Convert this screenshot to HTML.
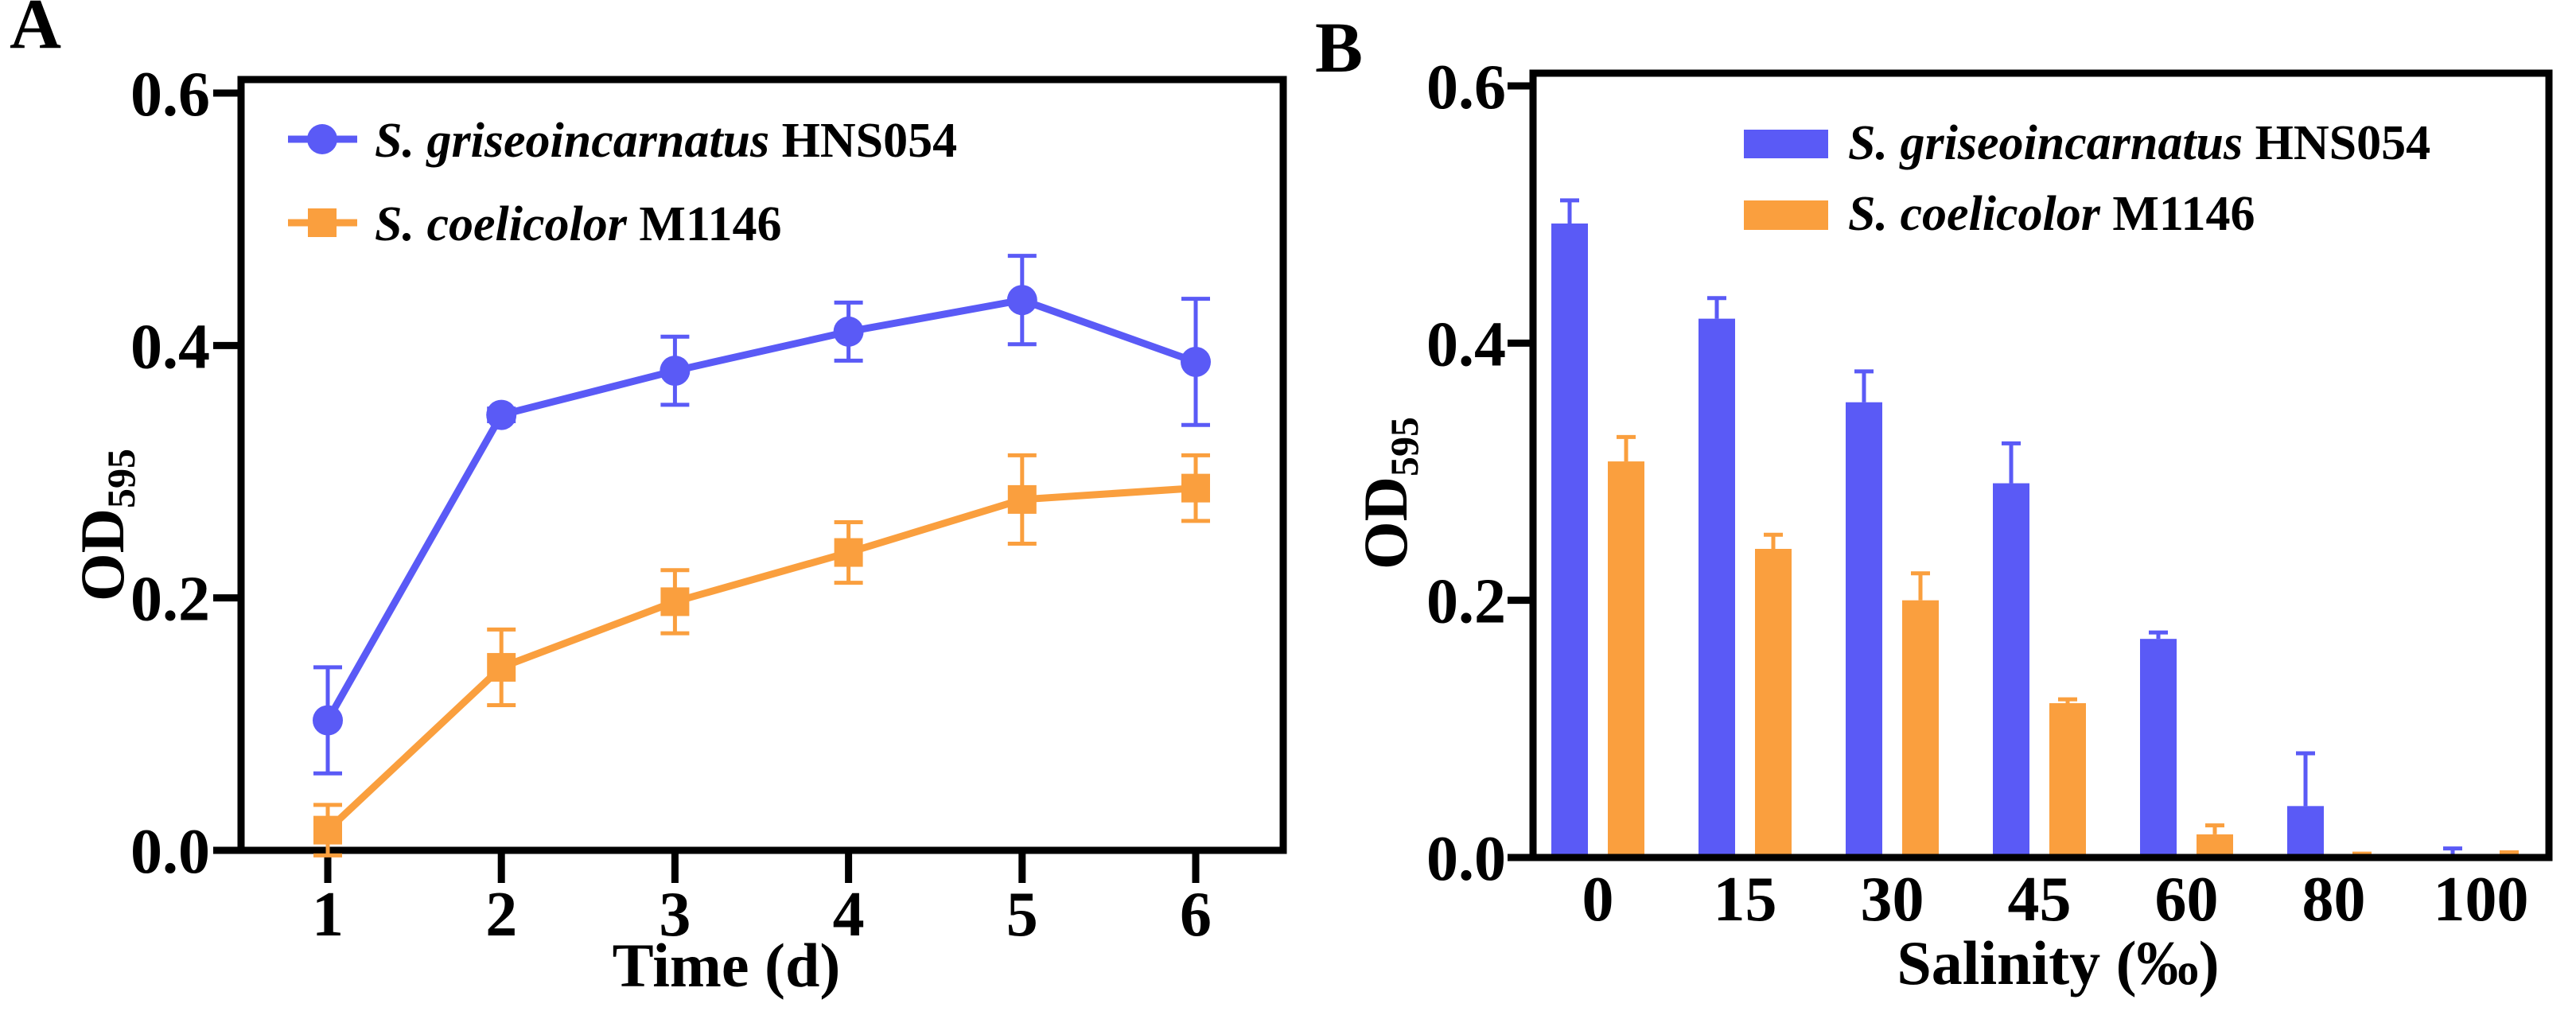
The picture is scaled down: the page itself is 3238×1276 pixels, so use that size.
<!DOCTYPE html>
<html><head><meta charset="utf-8"><style>
html,body{margin:0;padding:0;background:#fff;}
svg{display:block;}
svg text{font-family:"Liberation Serif","DejaVu Serif",serif;font-weight:bold;}
</style></head><body>
<svg id="fig" width="3238" height="1276" viewBox="0 0 3238 1276" xmlns="http://www.w3.org/2000/svg" font-family="Liberation Serif, DejaVu Serif, serif" font-weight="bold">
<g id="A"></g>
<g id="B"></g>
</svg>
<script>
// Panel A data
const daysA = [1,2,3,4,5,6];
const griseoA = [0.103,0.345,0.380,0.411,0.436,0.387];
const griseoErrA = [0.042,0.005,0.027,0.023,0.035,0.050];
const coeliA = [0.016,0.145,0.197,0.236,0.278,0.287];
const coeliErrA = [0.020,0.030,0.025,0.024,0.035,0.026];
const yTicks = [0.0,0.2,0.4,0.6];
const yTickLabels = ["0.0","0.2","0.4","0.6"];
// Panel B data
const salinity = ["0","15","30","45","60","80","100"];
const griseoB = [0.493,0.419,0.354,0.291,0.170,0.040,0.001];
const griseoErrB = [0.018,0.016,0.024,0.031,0.005,0.041,0.006];
const coeliB = [0.308,0.240,0.200,0.120,0.018,0.002,0.002];
const coeliErrB = [0.019,0.011,0.021,0.003,0.007,0.001,0.002];

const NS="http://www.w3.org/2000/svg";
const BLUE="#5a5af6", ORANGE="#fa9f3e";
function mk(parent,tag,attrs,text){const e=document.createElementNS(NS,tag);for(const k in attrs)e.setAttribute(k,attrs[k]);if(tag==='text'){e.setAttribute('font-family','Liberation Serif, DejaVu Serif, serif');e.setAttribute('font-weight','bold');}if(text!==undefined)e.textContent=text;parent.appendChild(e);return e;}

// ---------- Panel A ----------
const A=document.getElementById('A');
const axA={x0:303,x1:1613,y0:1069,yTop:100};
const yA=v=>1069-v/0.6*952;
const xA=d=>412+(d-1)*218.2;
let t=mk(A,'text',{x:12,y:60,'font-size':90},'A');


let f=mk(A,'path',{d:`M${axA.x0},${axA.y0} V${axA.yTop} H${axA.x1} V${axA.y0} H${axA.x0}`,fill:'none',stroke:'#000','stroke-width':9});


yTicks.forEach((v,i)=>{
  const tk=mk(A,'line',{x1:268,x2:axA.x0,y1:yA(v),y2:yA(v),stroke:'#000','stroke-width':9});
  
  
  const lb=mk(A,'text',{x:264,y:yA(v)+28,'font-size':80,'text-anchor':'end'},yTickLabels[i]);
  
  
});
daysA.forEach(d=>{
  const tk=mk(A,'line',{x1:xA(d),x2:xA(d),y1:axA.y0,y2:1110,stroke:'#000','stroke-width':9});
  
  
  const lb=mk(A,'text',{x:xA(d),y:1176,'font-size':80,'text-anchor':'middle'},String(d));
  
  
});
t=mk(A,'text',{x:913,y:1240,'font-size':78,'text-anchor':'middle'},'Time (d)');


t=mk(A,'text',{transform:'translate(155,660) rotate(-90)','font-size':78,'text-anchor':'middle'});


mk(t,'tspan',{},'OD');mk(t,'tspan',{'font-size':50,dy:14},'595');

function series(vals,errs,color,shape,name){
  const g=mk(A,'g',{});
  
  
  vals.forEach((v,i)=>{
    const x=xA(daysA[i]);
    const e=mk(g,'path',{d:`M${x},${yA(v-errs[i])} V${yA(v+errs[i])} M${x-18},${yA(v+errs[i])} H${x+18} M${x-18},${yA(v-errs[i])} H${x+18}`,stroke:color,'stroke-width':5,fill:'none'});
    
    
  });
  const l=mk(g,'polyline',{points:vals.map((v,i)=>`${xA(daysA[i])},${yA(v)}`).join(' '),fill:'none',stroke:color,'stroke-width':9});
  
  
  vals.forEach((v,i)=>{
    const x=xA(daysA[i]),y=yA(v);
    const m=shape==='c'?mk(g,'circle',{cx:x,cy:y,r:19,fill:color}):mk(g,'rect',{x:x-18,y:y-18,width:36,height:36,fill:color});
    
    
  });
}
series(coeliA,coeliErrA,ORANGE,'s','series-coelicolor');
series(griseoA,griseoErrA,BLUE,'c','series-griseoincarnatus');

function legendText(g,x,y,it,rest){
  const tx=mk(g,'text',{x:x,y:y,'font-size':62});
  mk(tx,'tspan',{'font-style':'italic'},it);
  mk(tx,'tspan',{},rest);
  return tx;
}
let lg=mk(A,'g',{});


mk(lg,'line',{x1:362,x2:449,y1:175,y2:175,stroke:BLUE,'stroke-width':9});
mk(lg,'circle',{cx:405,cy:175,r:19,fill:BLUE});
legendText(lg,471,197,'S. griseoincarnatus ','HNS054');
lg=mk(A,'g',{});


mk(lg,'line',{x1:362,x2:449,y1:280,y2:280,stroke:ORANGE,'stroke-width':9});
mk(lg,'rect',{x:387,y:262,width:36,height:36,fill:ORANGE});
legendText(lg,471,302,'S. coelicolor ','M1146');

// ---------- Panel B ----------
const B=document.getElementById('B');
const axB={x0:1927,x1:3204,y0:1078,yTop:92};
const yB=v=>1078-v/0.6*970;
const xB=i=>1950+i*185;
const BW=46, OFF=71;
t=mk(B,'text',{x:1653,y:90,'font-size':90},'B');


yTicks.forEach((v,i)=>{
  const tk=mk(B,'line',{x1:1895,x2:axB.x0,y1:yB(v),y2:yB(v),stroke:'#000','stroke-width':9});
  
  
  const lb=mk(B,'text',{x:1893,y:yB(v)+28,'font-size':80,'text-anchor':'end'},yTickLabels[i]);
  
  
});
salinity.forEach((s,i)=>{
  const cx=xB(i)+(OFF+BW)/2;
  const lb=mk(B,'text',{x:cx,y:1157,'font-size':80,'text-anchor':'middle'},s);
  
  
  [[griseoB,griseoErrB,BLUE,0,'bar-griseoincarnatus'],[coeliB,coeliErrB,ORANGE,OFF,'bar-coelicolor']].forEach(([vals,errs,col,off,nm])=>{
    const x=xB(i)+off, v=vals[i], top=v+errs[i];
    const eb=mk(B,'path',{d:`M${x+BW/2},${yB(v)} V${yB(top)} M${x+BW/2-12},${yB(top)} H${x+BW/2+12}`,stroke:col,'stroke-width':5,fill:'none'});
    
    
    const r=mk(B,'rect',{x:x,y:yB(v),width:BW,height:Math.max(0,axB.y0-yB(v)),fill:col});
    
    
  });
});
f=mk(B,'path',{d:`M${axB.x0},${axB.y0} V${axB.yTop} H${axB.x1} V${axB.y0} H${axB.x0}`,fill:'none',stroke:'#000','stroke-width':9});


t=mk(B,'text',{x:2587,y:1237,'font-size':78,'text-anchor':'middle'},'Salinity (‰)');


t=mk(B,'text',{transform:'translate(1768,620) rotate(-90)','font-size':78,'text-anchor':'middle'});


mk(t,'tspan',{},'OD');mk(t,'tspan',{'font-size':50,dy:14},'595');
lg=mk(B,'g',{});


mk(lg,'rect',{x:2192,y:163,width:106,height:36,fill:BLUE});
legendText(lg,2323,200,'S. griseoincarnatus ','HNS054');
lg=mk(B,'g',{});


mk(lg,'rect',{x:2192,y:252,width:106,height:37,fill:ORANGE});
legendText(lg,2323,289,'S. coelicolor ','M1146');
</script>
</body></html>
